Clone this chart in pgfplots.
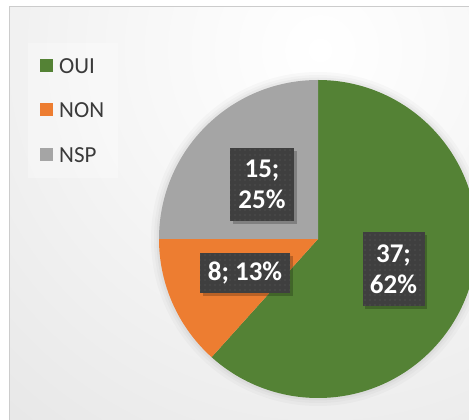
\documentclass[border=0pt]{standalone}
\usepackage{pgfplots}
\pgfplotsset{compat=1.18}
\usepackage{pgfplotstable}
\usepackage{fontspec}
\setmainfont{Carlito}
\usetikzlibrary{patterns.meta}

\definecolor{oui}{HTML}{548235}
\definecolor{non}{HTML}{ED7D31}
\definecolor{nsp}{HTML}{A5A5A5}
\definecolor{lbl}{HTML}{3F3F3F}
\definecolor{legtxt}{HTML}{3A3A3A}

\pgfplotstableread{
name value
OUI 37
NON 8
NSP 15
}\piedata

\pgfdeclareradialshading{bgshade}{\pgfpoint{0bp}{0bp}}{color(0bp)=(white); color(8bp)=(white!97!black); color(50bp)=(black!22)}

\tikzset{
  lblbox/.style={fill=lbl, text=white, align=center,
    font=\fontsize{27}{31}\bfseries\selectfont, inner sep=0pt,
    postaction={pattern={Dots[distance=5pt, radius=0.55pt]}, pattern color=black!62}},
  shadowbox/.style={fill=black, opacity=0.22},
  legtext/.style={anchor=west, inner sep=0pt, text=legtxt, font=\fontsize{23}{27}\selectfont}
}

\begin{document}
\begin{tikzpicture}[x=1pt,y=1pt]
\pgfplotstablegetelem{0}{value}\of\piedata \let\vA\pgfplotsretval
\pgfplotstablegetelem{1}{value}\of\piedata \let\vB\pgfplotsretval
\pgfplotstablegetelem{2}{value}\of\piedata \let\vC\pgfplotsretval
\pgfmathsetmacro{\tot}{\vA+\vB+\vC}
\pgfmathsetmacro{\aA}{90-360*\vA/\tot}
\pgfmathsetmacro{\aB}{\aA-360*\vB/\tot}
\useasboundingbox (0,0) rectangle (469,420);
\fill[white] (0,0) rectangle (469,420);
\begin{scope}
  \clip (9,0) rectangle (469,413);
  \shade[shading=bgshade] (320,370) circle (560);
\end{scope}
\draw[black!20, line width=1.5pt] (9.5,-5) -- (9.5,413.5) -- (475,413.5);
\begin{scope}
\clip (10,0) rectangle (469,413);
\begin{axis}[at={(0,0)}, anchor=origin, scale only axis, hide axis,
  x=1pt, y=1pt, xmin=0, xmax=469, ymin=0, ymax=420, clip=false]
  % legend panel
  \fill[white, opacity=0.3] (axis cs:28,242) rectangle (axis cs:118,377);
  % soft halo
  \fill[black, opacity=0.025] (axis cs:318,181) circle[radius=167pt];
  \fill[black, opacity=0.025] (axis cs:318,181) circle[radius=164pt];
  \fill[black, opacity=0.03] (axis cs:318,181) circle[radius=161.5pt];
  % slices
  \fill[oui] (axis cs:318,181) -- (axis cs:318,340) arc[start angle=90, end angle=\aA, radius=159pt] -- cycle;
  \fill[non] (axis cs:318,181) -- ++(\aA:159pt) arc[start angle=\aA, end angle=\aB, radius=159pt] -- cycle;
  \fill[nsp] (axis cs:318,181) -- ++(\aB:159pt) arc[start angle=\aB, end angle=-270, radius=159pt] -- cycle;
  % legend
  \fill[oui] (axis cs:40,347.5) rectangle (axis cs:53,360.5);
  \fill[non] (axis cs:40,303.5) rectangle (axis cs:53,316.5);
  \fill[nsp] (axis cs:40,258.5) rectangle (axis cs:53,271.5);
  \node[legtext] at (axis cs:59,354) {OUI};
  \node[legtext] at (axis cs:59,310) {NON};
  \node[legtext] at (axis cs:59,265) {NSP};
  % data label shadows
  \fill[shadowbox] (axis cs:233,196) rectangle (axis cs:297,269);
  \fill[shadowbox] (axis cs:365,111) rectangle (axis cs:427,185);
  \fill[shadowbox] (axis cs:203,124) rectangle (axis cs:293,164);
  % data labels
  \node[lblbox, minimum width=64pt, minimum height=73pt] at (axis cs:262,235.5) {\vC;\\25\%};
  \node[lblbox, minimum width=62pt, minimum height=74pt] at (axis cs:393.5,151) {\vA;\\62\%};
  \node[lblbox, minimum width=90pt, minimum height=40pt] at (axis cs:245,147) {\vB; 13\%};
\end{axis}
\end{scope}
\end{tikzpicture}
\end{document}
